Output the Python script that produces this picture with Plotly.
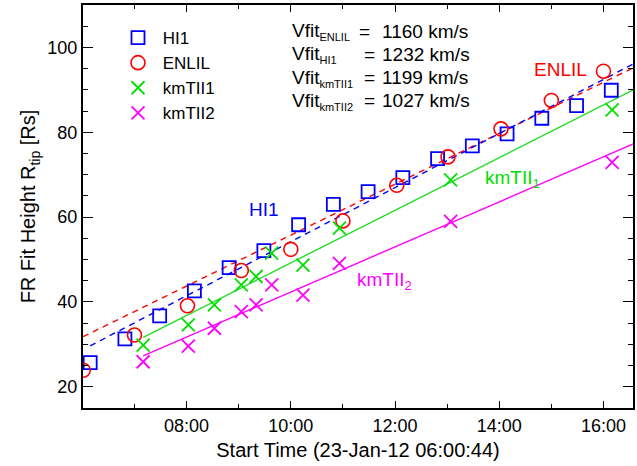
import plotly.graph_objects as go

DAY = "2012-01-23 "

# ---------------- data ----------------
hi1_times = ["06:09", "06:49", "07:29", "08:09", "08:49", "09:29", "10:09", "10:49",
             "11:29", "12:09", "12:49", "13:29", "14:09", "14:49", "15:29", "16:09"]
hi1_vals = [25.7, 31.3, 36.7, 42.6, 48.1, 52.1, 58.2, 63.0,
            66.0, 69.3, 73.8, 76.8, 79.6, 83.3, 86.3, 89.9]

enlil_times = ["06:01", "07:00", "08:01", "09:03", "10:00", "11:00",
               "12:02", "13:01", "14:02", "15:00", "16:00"]
enlil_vals = [23.9, 32.2, 39.1, 47.4, 52.4, 59.1, 67.5, 74.2, 80.8, 87.5, 94.4]

kmt_times = ["07:10", "08:02", "08:32", "09:03", "09:20", "09:38", "10:14", "10:56", "13:04", "16:10"]
kmt1_vals = [29.8, 34.6, 39.3, 44.0, 46.0, 51.5, 48.7, 57.4, 68.8, 85.3]
kmt2_vals = [25.9, 29.6, 33.8, 37.7, 39.3, 44.0, 41.6, 49.1, 59.0, 72.9]

# linear fits: speed (km/s), start time, fitted height at 10:00 (Rs)
fit_names = ["ENLIL", "HI1", "kmTII1", "kmTII2"]
fit_speed = [1160, 1232, 1199, 1027]
fit_start = ["06:00:44", "06:09", "07:10", "07:10"]
fit_at_10 = [55.75, 54.2, 49.2, 42.35]
fit_end = "16:45"

x_ticks = ["08:00", "10:00", "12:00", "14:00", "16:00"]

RSUN_KM = 695700.0

# ---------------- layout helpers ----------------
W, H = 637, 466
L, R, T, B = 83, 633, 5, 408


def px(x):
    return (x - L) / (R - L)


def py(y):
    return (B - y) / (B - T)


def hours(s):
    parts = [int(p) for p in s.split(":")]
    while len(parts) < 3:
        parts.append(0)
    return parts[0] + parts[1] / 60 + parts[2] / 3600


FONT = "Liberation Sans, Arial, Helvetica, sans-serif"
NB = "\u00a0"
colors = {"HI1": "#0000ff", "ENLIL": "#ff0000", "kmTII1": "#00e000", "kmTII2": "#ff00ff"}
line_colors = {"HI1": "#0000ff", "ENLIL": "#ff0000", "kmTII1": "#22dd22", "kmTII2": "#ff00ff"}

fig = go.Figure()

# fit lines
for name, v, st, v10 in zip(fit_names, fit_speed, fit_start, fit_at_10):
    slope = v * 3600.0 / RSUN_KM  # Rs per hour
    xs = [DAY + st, DAY + fit_end]
    ys = [v10 + slope * (hours(st) - 10.0), v10 + slope * (hours(fit_end) - 10.0)]
    dash = "6px,5px" if name in ("HI1", "ENLIL") else "solid"
    fig.add_trace(go.Scatter(x=xs, y=ys, mode="lines", showlegend=False, hoverinfo="skip",
                             line=dict(color=line_colors[name], width=1.4, dash=dash)))

# markers
fig.add_trace(go.Scatter(x=[DAY + t for t in hi1_times], y=hi1_vals, mode="markers", name=NB + "HI1",
                         marker=dict(symbol="square-open", size=13, color=colors["HI1"],
                                     line=dict(width=1.8, color=colors["HI1"]))))
fig.add_trace(go.Scatter(x=[DAY + t for t in enlil_times], y=enlil_vals, mode="markers", name=NB + "ENLIL",
                         marker=dict(symbol="circle-open", size=14, color=colors["ENLIL"],
                                     line=dict(width=1.6, color=colors["ENLIL"]))))
fig.add_trace(go.Scatter(x=[DAY + t for t in kmt_times], y=kmt1_vals, mode="markers", name=NB + "kmTII1",
                         marker=dict(symbol="x-thin-open", size=13, color=colors["kmTII1"],
                                     line=dict(width=1.8, color=colors["kmTII1"]))))
fig.add_trace(go.Scatter(x=[DAY + t for t in kmt_times], y=kmt2_vals, mode="markers", name=NB + "kmTII2",
                         marker=dict(symbol="x-thin-open", size=13, color=colors["kmTII2"],
                                     line=dict(width=1.8, color=colors["kmTII2"]))))

annotations = []
vfit_rows = [("ENLIL", "1160"), ("HI1", "1232"), ("kmTII1", "1199"), ("kmTII2", "1027")]
row_y = [31, 54, 77, 100]
eq_x = [357, 362, 362, 362]
for (lab, val), yy, ex in zip(vfit_rows, row_y, eq_x):
    annotations.append(dict(xref="paper", yref="paper", x=px(290), y=py(yy + 1), xanchor="left",
                            yanchor="middle", showarrow=False,
                            text=f"Vfit<sub><span style='font-size:11px'>{lab}</span></sub>",
                            font=dict(size=19, color="black", family=FONT)))
    annotations.append(dict(xref="paper", yref="paper", x=px(ex), y=py(yy), xanchor="left",
                            yanchor="middle", showarrow=False, text="=",
                            font=dict(size=19, color="black", family=FONT)))
    annotations.append(dict(xref="paper", yref="paper", x=px(380), y=py(yy), xanchor="left",
                            yanchor="middle", showarrow=False, text=f"{val} km/s",
                            font=dict(size=19, color="black", family=FONT)))

labels = [
    ("HI1", 264, 209, "center", colors["HI1"]),
    ("ENLIL", 560, 69, "center", colors["ENLIL"]),
    ("kmTII<sub>1</sub>", 483, 179, "left", colors["kmTII1"]),
    ("kmTII<sub>2</sub>", 355, 281, "left", colors["kmTII2"]),
]
for txt, xx, yy, anc, col in labels:
    annotations.append(dict(xref="paper", yref="paper", x=px(xx), y=py(yy), xanchor=anc,
                            yanchor="middle", showarrow=False, text=txt,
                            font=dict(size=19, color=col, family=FONT)))

axis_common = dict(showline=True, linecolor="black", linewidth=2, mirror="allticks",
                   ticks="inside", tickcolor="black", tickwidth=1.3, showgrid=False,
                   zeroline=False, automargin=False,
                   tickfont=dict(size=18, color="black", family=FONT))

fig.update_layout(
    width=W, height=H,
    margin=dict(l=L, r=W - R, t=T, b=H - B, autoexpand=False),
    paper_bgcolor="white", plot_bgcolor="white",
    font=dict(family=FONT, color="black"),
    showlegend=True,
    legend=dict(x=px(118), y=py(20), xanchor="left", yanchor="top",
                bgcolor="rgba(0,0,0,0)", font=dict(size=17, family=FONT, color="black"),
                tracegroupgap=0, itemsizing="trace"),
    annotations=annotations,
    xaxis=dict(
        type="date",
        range=[DAY + "06:00:44", DAY + "16:34"],
        tickmode="array",
        tickvals=[DAY + t for t in x_ticks],
        ticktext=x_ticks,
        ticklen=7,
        minor=dict(ticks="inside", dtick=3600000, tick0=DAY + "07:00", ticklen=4,
                   tickcolor="black", tickwidth=1.3, showgrid=False),
        title=dict(text="Start Time (23-Jan-12 06:00:44)", font=dict(size=20, family=FONT),
                   standoff=8),
        **axis_common,
    ),
    yaxis=dict(
        range=[15, 110],
        tickmode="linear", tick0=20, dtick=20,
        ticklen=10,
        minor=dict(ticks="inside", dtick=5, tick0=0, ticklen=5,
                   tickcolor="black", tickwidth=1.3, showgrid=False),
        title=dict(text="FR Fit Height R<sub>tip</sub> [Rs]", font=dict(size=20, family=FONT),
                   standoff=6),
        **axis_common,
    ),
)

fig.write_html("out.html", config={"displayModeBar": False},
               post_script="document.body.style.margin='0px';document.body.style.overflow='hidden';")
